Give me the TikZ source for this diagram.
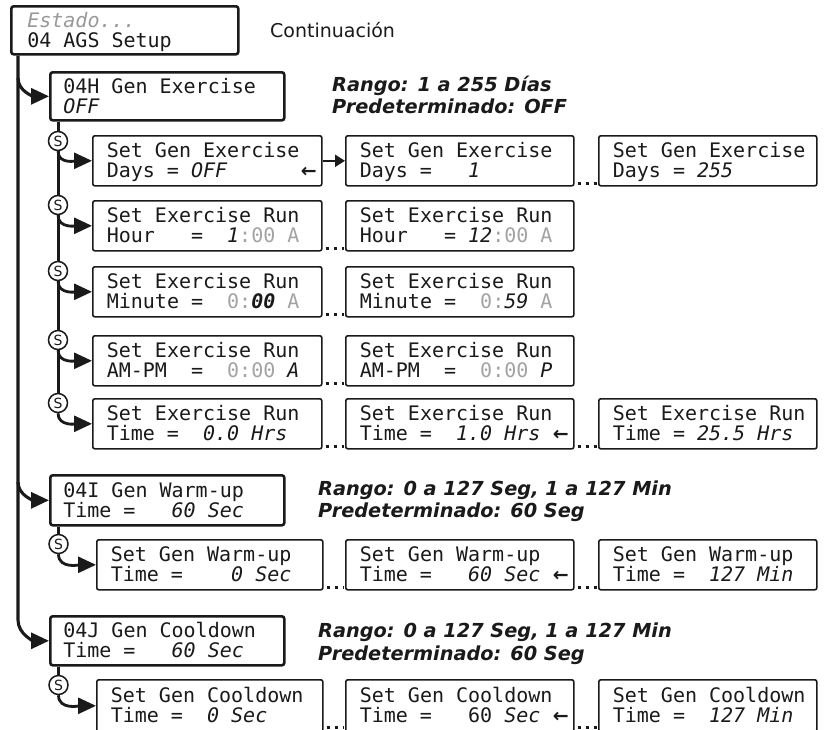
\documentclass[tikz,border=0pt]{standalone}
\usepackage{fontspec}
\setmainfont{DejaVu Sans}
\newfontfamily\monof{DejaVu Sans Mono}
\usetikzlibrary{arrows.meta}
\definecolor{ink}{HTML}{1A1A1A}
\definecolor{lgray}{HTML}{A3A3A3}
\definecolor{egray}{HTML}{999999}
\newcommand{\gr}[1]{\textcolor{lgray}{#1}}
\newcommand{\la}{\hfill{\rmfamily\bfseries\fontsize{19}{19}\selectfont ←}\hspace*{-9pt}}
\newcommand{\ind}{\hspace*{4pt}}
\tikzset{
  monotext/.style={font={\monof\fontsize{20}{20}\selectfont\def~{\hspace*{12.04pt}}}},
  mainbox/.style={draw=ink, line width=2.6pt, rounded corners=2.5pt, anchor=north west,
    align=left, monotext, text=ink,
    text height=17pt, text depth=23pt, minimum height=49pt, inner ysep=0pt},
  subbox/.style={draw=ink, line width=1.6pt, rounded corners=2pt, anchor=north west,
    align=left, monotext, text=ink,
    text height=17pt, text depth=23pt, minimum height=50pt, inner ysep=0pt, inner xsep=14pt},
  col3/.style={subbox, text width=198pt, inner xsep=10pt},
  scirc/.style={circle, draw=ink, line width=1.5pt, fill=white, inner sep=0pt,
    minimum size=19pt, font=\fontsize{14}{14}\selectfont, text=ink},
  mline/.style={draw=ink, line width=3.1pt, -{Triangle[length=18pt,width=16pt]}},
  vline/.style={draw=ink, line width=3pt},
  sarrow/.style={draw=ink, line width=2.8pt, -{Triangle[length=18pt,width=16pt]}},
  harrow/.style={draw=ink, line width=2pt, -{Triangle[length=10pt,width=12pt]}},
  dotc/.style={draw=ink, line width=3pt, dash pattern=on 3pt off 5pt, shorten <=3pt, shorten >=1pt},
  rng/.style={anchor=base west, inner sep=0pt, text=ink,
    font=\bfseries\itshape\fontsize{19.3}{22}\selectfont},
}
\begin{document}
\begin{tikzpicture}[x=1pt,y=-1pt]
\fill[white] (0,0) rectangle (824,729);
\useasboundingbox (0,0) rectangle (824,729);
\clip (0,0) rectangle (824,729);

% headers
\node[mainbox, inner xsep=16pt, text width=195pt, minimum height=48pt] (top) at (10,5)
  {\textcolor{egray}{\textit{Estado...}}\\04~AGS~Setup};
\node[anchor=base west, inner sep=0pt, text=ink, font=\fontsize{19}{22}\selectfont] (cont) at (270,37) {Continuación};

\node[mainbox, inner xsep=13pt, text width=208pt, minimum height=48pt] (h) at (49,71)
  {04H~Gen~Exercise\\\textit{OFF}};
\node[rng] (r1a) at (332,91) {Rango: 1 a 255 Días};
\node[rng] (r1b) at (332,113) {Predeterminado: OFF};

% row 1
\node[subbox, text width=201pt] (b11) at (92,135) {Set~Gen~Exercise\\Days~=~\textit{OFF}\la};
\node[subbox, text width=200pt] (b12) at (345,135) {Set~Gen~Exercise\\Days~=~~~\textit{1}};
\node[col3] (b13) at (598,135) {\ind Set~Gen~Exercise\\\ind Days~=~\textit{255}};
% row 2
\node[subbox, text width=201pt] (b21) at (92,200) {Set~Exercise~Run\\Hour~~~=~~\textit{1}\gr{:00~A}};
\node[subbox, text width=200pt] (b22) at (345,200) {Set~Exercise~Run\\Hour~~~=~\textit{12}\gr{:00~A}};
% row 3
\node[subbox, text width=201pt] (b31) at (92,266) {Set~Exercise~Run\\Minute~=~~\gr{0:}\textbf{\textit{00}}\gr{~A}};
\node[subbox, text width=200pt] (b32) at (345,266) {Set~Exercise~Run\\Minute~=~~\gr{0:}\textit{59}\gr{~A}};
% row 4
\node[subbox, text width=201pt] (b41) at (92,335) {Set~Exercise~Run\\AM-PM~~=~~\gr{0:00}~\textit{A}};
\node[subbox, text width=200pt] (b42) at (345,335) {Set~Exercise~Run\\AM-PM~~=~~\gr{0:00}~\textit{P}};
% row 5
\node[subbox, text width=201pt] (b51) at (92,398) {Set~Exercise~Run\\Time~=~~\textit{0.0~Hrs}};
\node[subbox, text width=200pt] (b52) at (345,398) {Set~Exercise~Run\\Time~=~~\textit{1.0~Hrs}\la};
\node[col3] (b53) at (598,398) {\ind Set~Exercise~Run\\\ind Time~=~\textit{25.5~Hrs}};

% warm-up
\node[mainbox, inner xsep=13pt, text width=208pt, minimum height=50pt] (i) at (49,474)
  {04I~Gen~Warm-up\\Time~=~~~\textit{60~Sec}};
\node[rng] (r2a) at (318,495) {Rango: 0 a 127 Seg, 1 a 127 Min};
\node[rng] (r2b) at (318,517) {Predeterminado: 60 Seg};
\node[subbox, text width=198pt] (w1) at (96,539) {Set~Gen~Warm-up\\Time~=~~~~\textit{0~Sec}};
\node[subbox, text width=200pt] (w2) at (345,539) {Set~Gen~Warm-up\\Time~=~~~\textit{60~Sec}\la};
\node[col3] (w3) at (598,539) {\ind Set~Gen~Warm-up\\\ind Time~=~~\textit{127~Min}};

% cooldown
\node[mainbox, inner xsep=13pt, text width=208pt, minimum height=49pt] (j) at (49,615)
  {04J~Gen~Cooldown\\Time~=~~~\textit{60~Sec}};
\node[rng] (r3a) at (318,637) {Rango: 0 a 127 Seg, 1 a 127 Min};
\node[rng] (r3b) at (318,660) {Predeterminado: 60 Seg};
\node[subbox, text width=198pt, minimum height=52pt] (c1) at (96,679) {Set~Gen~Cooldown\\Time~=~~\textit{0~Sec}};
\node[subbox, text width=200pt, minimum height=52pt] (c2) at (345,679) {Set~Gen~Cooldown\\Time~=~~~60~\textit{Sec}\la};
\node[col3, minimum height=52pt] (c3) at (598,679) {\ind Set~Gen~Cooldown\\\ind Time~=~~\textit{127~Min}};

% S circles
\node[scirc] (s1) at (58,141) {S};
\node[scirc] (s2) at (58,205) {S};
\node[scirc] (s3) at (58,271) {S};
\node[scirc] (s4) at (58,340) {S};
\node[scirc] (s5) at (58,403) {S};
\node[scirc] (sw) at (58.5,544) {S};
\node[scirc] (sk) at (58.5,685) {S};

% main trunk
\coordinate (mH) at (18,78);
\coordinate (mI) at (18,482);
\coordinate (mJ) at (18,620);
\draw[mline] ([xshift=8pt]top.south west) -- (mJ) to[out=-90,in=180] (j.west);
\draw[mline] (mH) to[out=-90,in=180] (h.west);
\draw[mline] (mI) to[out=-90,in=180] (i.west);

% 04H sub-trunk
\draw[vline] (h.south -| s1) -- (s1);
\draw[vline] (s1) -- (s2);
\draw[vline] (s2) -- (s3);
\draw[vline] (s3) -- (s4);
\draw[vline] (s4) -- (s5);
\draw[sarrow] (s1.south) to[out=-90,in=180] (b11.west);
\draw[sarrow] (s2.south) to[out=-90,in=180] (b21.west);
\draw[sarrow] (s3.south) to[out=-90,in=180] (b31.west);
\draw[sarrow] (s4.south) to[out=-90,in=180] (b41.west);
\draw[sarrow] (s5.south) to[out=-90,in=180] (b51.west);

% 04I / 04J sub-trunks
\draw[vline] (i.south -| sw) -- (sw);
\draw[sarrow] (sw.south) to[out=-90,in=180] (w1.west);
\draw[vline] (j.south -| sk) -- (sk);
\draw[sarrow] (sk.south) to[out=-90,in=180] (c1.west);

% horizontal links
\draw[harrow] (b11.east) -- (b12.west);
\draw[dotc] ([yshift=3pt]b12.south east) -- ([yshift=3pt]b13.south west);
\draw[dotc] ([yshift=3pt]b21.south east) -- ([yshift=3pt]b22.south west);
\draw[dotc] ([yshift=3pt]b31.south east) -- ([yshift=3pt]b32.south west);
\draw[dotc] ([yshift=3pt]b41.south east) -- ([yshift=3pt]b42.south west);
\draw[dotc] ([yshift=3pt]b51.south east) -- ([yshift=3pt]b52.south west);
\draw[dotc] ([yshift=3pt]b52.south east) -- ([yshift=3pt]b53.south west);
\draw[dotc] ([yshift=3pt]w1.south east) -- ([yshift=3pt]w2.south west);
\draw[dotc] ([yshift=3pt]w2.south east) -- ([yshift=3pt]w3.south west);
\draw[dotc] ([yshift=5pt]c1.south east) -- ([yshift=5pt]c2.south west);
\draw[dotc] ([yshift=5pt]c2.south east) -- ([yshift=5pt]c3.south west);
\end{tikzpicture}
\end{document}
